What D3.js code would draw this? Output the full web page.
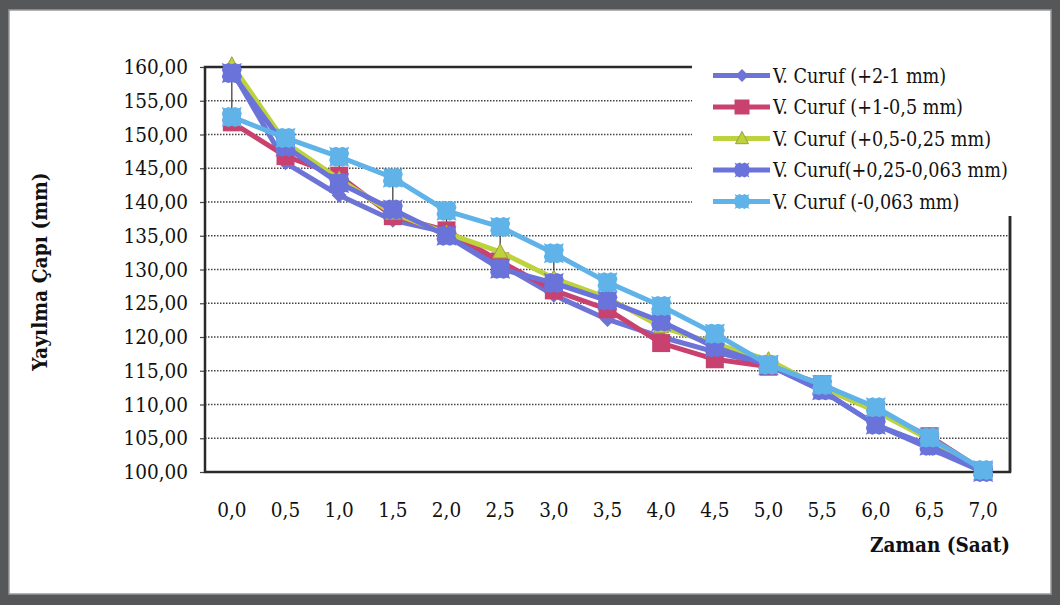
<!DOCTYPE html>
<html>
<head>
<meta charset="utf-8">
<script src="https://cdn.jsdelivr.net/npm/d3@7"></script>
<style>
  html, body { margin: 0; padding: 0; background: #ffffff; }
  svg { display: block; }
</style>
</head>
<body>
<svg id="chart" width="1060" height="605"></svg>
<script>
// Spreading diameter (mm) of the slag samples against time (hours)
const times = ["0,0","0,5","1,0","1,5","2,0","2,5","3,0","3,5","4,0","4,5","5,0","5,5","6,0","6,5","7,0"];
const seriesNames = [
  "V. Curuf (+2-1 mm)",
  "V. Curuf (+1-0,5 mm)",
  "V. Curuf (+0,5-0,25 mm)",
  "V. Curuf(+0,25-0,063 mm)",
  "V. Curuf (-0,063 mm)"
];
const curuf_2_1      = [159.5, 145.8, 141.0, 137.3, 135.5, 130.8, 126.2, 122.6, 120.0, 117.8, 115.8, 112.0, 107.0, 103.5, 100.0];
const curuf_1_05     = [151.8, 146.8, 143.9, 137.9, 135.8, 131.2, 126.9, 124.1, 119.1, 116.7, 115.6, 113.0, 109.0, 105.3, 100.2];
const curuf_05_025   = [160.3, 148.8, 143.4, 138.3, 135.4, 132.6, 128.7, 125.8, 121.5, 119.0, 116.6, 112.5, 109.0, 104.8, 100.0];
const curuf_025_0063 = [159.1, 148.2, 142.8, 138.9, 135.0, 130.1, 128.0, 125.4, 122.3, 118.5, 115.8, 112.1, 107.0, 103.9, 100.0];
const curuf_0063     = [152.6, 149.5, 146.7, 143.6, 138.7, 136.3, 132.4, 128.1, 124.6, 120.5, 115.9, 112.9, 109.6, 105.1, 100.3];
const yTicks = [100,105,110,115,120,125,130,135,140,145,150,155,160];

const allSeries = [curuf_2_1, curuf_1_05, curuf_05_025, curuf_025_0063, curuf_0063];
const colors  = ["#6d74d6", "#c9426f", "#bdd23c", "#6a73d9", "#5fb3e8"];
const markers = ["diamond", "square", "triangle", "star", "star"];

const SERIF = "'DejaVu Serif Condensed', 'DejaVu Serif', serif";

const svg = d3.select("#chart").attr("font-family", SERIF);
const W = 1060, H = 605;

// outer frame
svg.append("rect").attr("x", 0).attr("y", 0).attr("width", W).attr("height", H).attr("fill", "#555759");
svg.append("rect").attr("x", 9).attr("y", 10).attr("width", W - 18).attr("height", H - 21)
  .attr("fill", "#ffffff").attr("stroke", "#9a9a9a").attr("stroke-width", 1.5);

const plot = { left: 205, top: 67, right: 1010, bottom: 472 };

const x = d3.scaleBand().domain(times).range([plot.left, plot.right]).padding(0);
const y = d3.scaleLinear().domain([100, 160]).range([plot.bottom, plot.top]);
const cx = t => x(t) + x.bandwidth() / 2;

// dotted horizontal gridlines
svg.append("g").selectAll("line").data(yTicks.filter(v => v > 100 && v < 160)).join("line")
  .attr("x1", plot.left).attr("x2", plot.right)
  .attr("y1", d => y(d)).attr("y2", d => y(d))
  .attr("stroke", "#444").attr("stroke-width", 1.3).attr("stroke-dasharray", "1.5,1.5");

// y axis with comma decimal labels
const fmt = v => d3.format(".2f")(v).replace(".", ",");
const yAxis = d3.axisLeft(y).tickValues(yTicks).tickFormat(fmt).tickSize(5).tickPadding(12);
const gy = svg.append("g").attr("transform", `translate(${plot.left},0)`).call(yAxis)
  .attr("font-family", SERIF);
gy.select(".domain").remove();
gy.selectAll(".tick line").attr("stroke", "#444").attr("stroke-width", 1.2);
gy.selectAll("text").attr("font-size", 20.5).attr("fill", "#111");

// x axis labels
const xAxis = d3.axisBottom(x).tickSize(0).tickPadding(30);
const gx = svg.append("g").attr("transform", `translate(0,${plot.bottom})`).call(xAxis)
  .attr("font-family", SERIF);
gx.select(".domain").remove();
gx.selectAll("text").attr("font-size", 20.5).attr("fill", "#111");

// plot frame
svg.append("rect").attr("x", plot.left).attr("y", plot.top)
  .attr("width", plot.right - plot.left).attr("height", plot.bottom - plot.top)
  .attr("fill", "none").attr("stroke", "#2a2a2a").attr("stroke-width", 2.5);

// high-low lines at every time step
svg.append("g").selectAll("line").data(times).join("line")
  .attr("x1", d => cx(d)).attr("x2", d => cx(d))
  .attr("y1", (d, i) => y(d3.max(allSeries, s => s[i])))
  .attr("y2", (d, i) => y(d3.min(allSeries, s => s[i])))
  .attr("stroke", "#333").attr("stroke-width", 1.2);

function markerPath(type, size) {
  const h = size / 2;
  if (type === "diamond") return `M0,${-h}L${h},0L0,${h}L${-h},0Z`;
  if (type === "square") return `M${-h},${-h}H${h}V${h}H${-h}Z`;
  if (type === "triangle") return `M0,${-h * 1.1}L${h},${h * 0.8}L${-h},${h * 0.8}Z`;
  // jagged square used by the last two series
  const pts = [];
  const n = 6;
  for (let k = 0; k < 4; k++) {
    for (let j = 0; j < n; j++) {
      const t = -h + (2 * h) * j / n;
      const bump = (j % 2 === 0) ? 0 : -1.2;
      let px, py;
      if (k === 0) { px = t; py = -h - bump; }
      else if (k === 1) { px = h + bump; py = t; }
      else if (k === 2) { px = -t; py = h + bump; }
      else { px = -h - bump; py = -t; }
      pts.push([px, py]);
    }
  }
  return "M" + pts.map(p => p.join(",")).join("L") + "Z";
}
const markerSize = [15, 18, 15, 20, 20];

const line = d3.line().x((d, i) => cx(times[i])).y(d => y(d));

allSeries.forEach((vals, si) => {
  const g = svg.append("g");
  g.append("path").datum(vals).attr("d", line)
    .attr("fill", "none").attr("stroke", colors[si]).attr("stroke-width", 5)
    .attr("stroke-linejoin", "round");
  g.selectAll("path.m").data(vals).join("path").attr("class", "m")
    .attr("transform", (d, i) => `translate(${cx(times[i])},${y(d)})`)
    .attr("d", markerPath(markers[si], markerSize[si]))
    .attr("fill", colors[si])
    .attr("stroke", markers[si] === "triangle" ? "#9aa040" : "none")
    .attr("stroke-width", 1);
});

// legend (white box over the top-right corner of the frame)
const lg = svg.append("g");
lg.append("rect").attr("x", 692).attr("y", 56).attr("width", 336).attr("height", 160).attr("fill", "#ffffff");
seriesNames.forEach((name, si) => {
  const ly = 75.5 + si * 31.5;
  lg.append("line").attr("x1", 713).attr("x2", 770).attr("y1", ly).attr("y2", ly)
    .attr("stroke", colors[si]).attr("stroke-width", 5);
  lg.append("path").attr("transform", `translate(742,${ly})`)
    .attr("d", markerPath(markers[si], si >= 3 ? 15 : (si === 1 ? 15 : 13)))
    .attr("fill", colors[si])
    .attr("stroke", markers[si] === "triangle" ? "#9aa040" : "none");
  lg.append("text").attr("x", 773).attr("y", ly + 7).attr("font-size", 19.6)
    .attr("fill", "#111").text(name);
});
// right frame line continues below the legend
svg.append("line").attr("x1", plot.right).attr("x2", plot.right).attr("y1", 216).attr("y2", plot.bottom)
  .attr("stroke", "#2a2a2a").attr("stroke-width", 2.5);

// axis titles
svg.append("text").attr("transform", `translate(47,${(plot.top + plot.bottom) / 2 + 2}) rotate(-90)`)
  .attr("text-anchor", "middle").attr("font-size", 20.8).attr("font-weight", "bold")
  .attr("fill", "#111").text("Yayılma Çapı (mm)");
svg.append("text").attr("x", plot.right).attr("y", 552).attr("text-anchor", "end")
  .attr("font-size", 20.5).attr("font-weight", "bold")
  .attr("fill", "#111").text("Zaman (Saat)");
</script>
</body>
</html>
